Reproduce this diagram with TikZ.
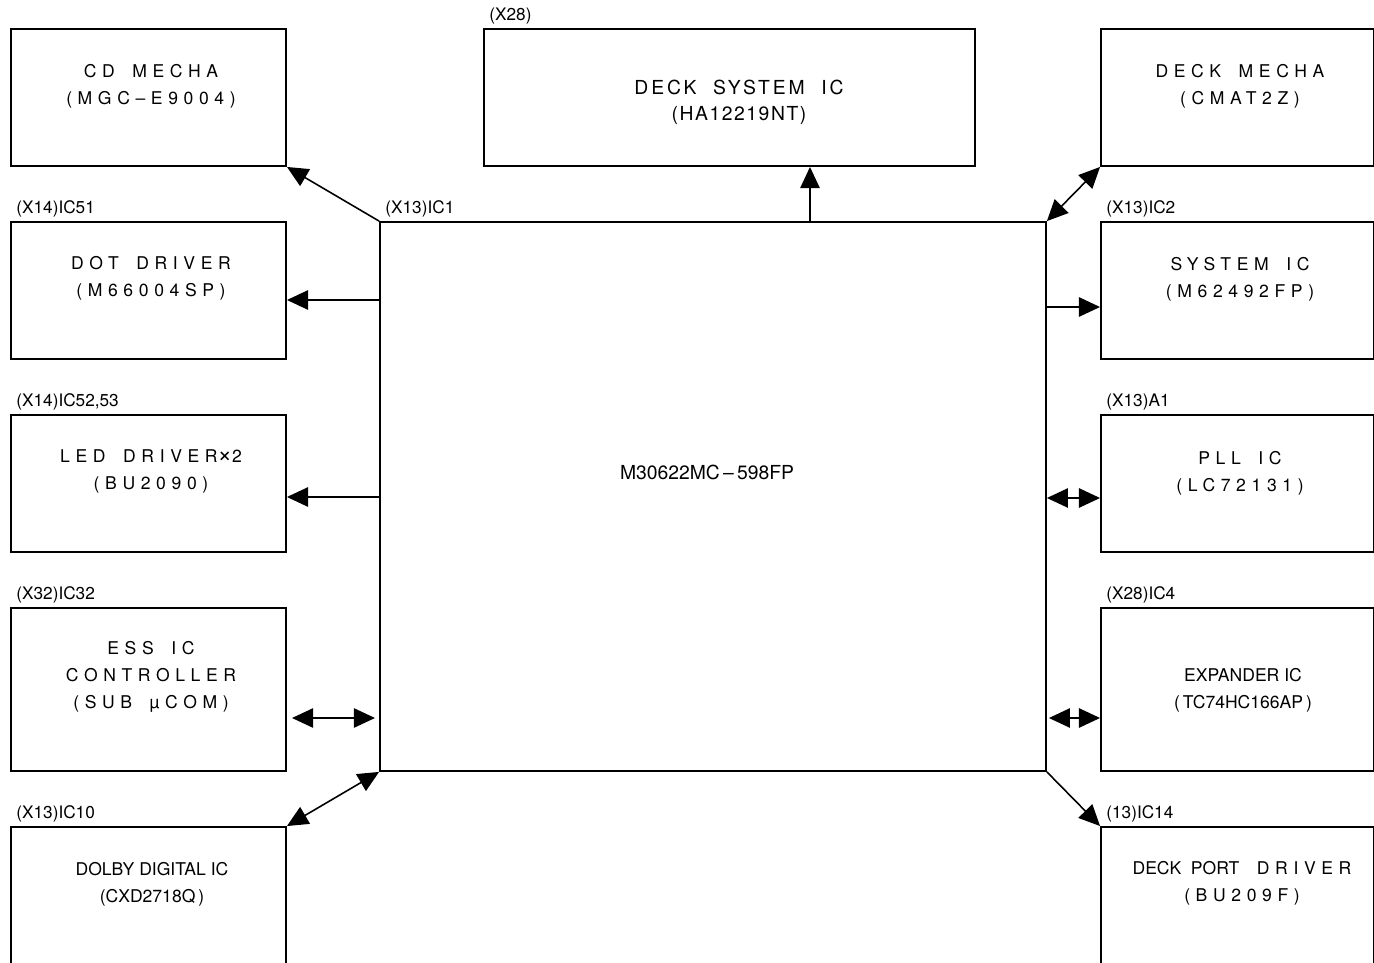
\documentclass[tikz,border=0pt]{standalone}
\usepackage{fontspec}
\setmainfont{TeX Gyre Heros}
\newfontfamily\wide[LetterSpace=32]{TeX Gyre Heros}
\newfontfamily\semi[LetterSpace=15]{TeX Gyre Heros}
\newfontfamily\light[LetterSpace=8]{TeX Gyre Heros}
\newcommand\wsp{\hspace{1em}}
\newcommand\bigx{{\fontsize{14}{14}\selectfont ×}}
\usetikzlibrary{positioning}
\usetikzlibrary{arrows.meta}

\tikzset{
  blk/.style={draw, line width=1.1pt, minimum height=2.74cm, inner sep=0pt},
  lbox/.style={blk, minimum width=5.5cm},
  rbox/.style={blk, minimum width=5.46cm},
  lbl/.style={inner sep=0pt, font=\fontsize{9.8}{11}\selectfont},
  txt/.style={align=center, font=\fontsize{10}{15.3}\selectfont},
  arr/.style={line width=0.9pt, -{Triangle[length=12pt, width=11pt]}},
  dbl/.style={line width=0.9pt, {Triangle[length=12pt, width=11pt]}-{Triangle[length=12pt, width=11pt]}},
}

\begin{document}
\begin{tikzpicture}[x=0.02cm, y=-0.02cm]
  \useasboundingbox (0,0) rectangle (1374,963);
  \clip (0,0) rectangle (1374,963);

  % main controller
  \node[blk, minimum width=13.32cm, minimum height=10.98cm] (ic1) at (713,496.5) {};
  \node[txt, font=\fontsize{11}{13}\selectfont] (ic1-t) at (707,472) {M30622MC\,–\,598FP};

  % blocks round it
  \foreach \name/\y in {cd/97.5, dot/290.5, led/483.5, dolby/895.5}
    \node[lbox] (\name) at (148.5,\y) {};
  \foreach \name/\y in {dm/97.5, sys/290.5, pll/483.5, dport/895.5}
    \node[rbox] (\name) at (1237.5,\y) {};
  \node[lbox, minimum height=3.26cm] (ess) at (148.5,689.5) {};
  \node[rbox, minimum height=3.26cm] (exp) at (1237.5,689.5) {};
  \node[blk, minimum width=9.82cm] (dsys) at (729.5,97.5) {};

  % block texts
  \foreach \name/\x/\y/\txt in {
      cd/151/86/{\wide CD\wsp MECHA\\\wide (MGC–E9004)},
      dm/1240/86/{\wide DECK\wsp MECHA\\\wide (CMAT2Z)},
      dot/151/278.5/{\wide DOT\wsp DRIVER\\\wide (M66004SP)},
      sys/1240/279.5/{\wide SYSTEM\wsp IC\\\wide (M62492FP)},
      led/151/471.5/{\wide LED\wsp DRIVER\bigx 2\\\wide (BU2090)},
      pll/1240/473/{\wide PLL\wsp IC\\\wide (LC72131)},
      ess/151/677/{\wide ESS\wsp IC\\\wide CONTROLLER\\\wide (SUB\wsp µCOM)},
      exp/1243/690.5/{EXPANDER IC\\(\,TC74HC166AP\,)},
      dolby/152/884/{DOLBY DIGITAL IC\\(CXD2718Q\,)},
      dport/1242/883/{DECK~~PORT\wsp{\wide DRIVER}\\\wide (BU209F)}}
    \node[txt] (\name-t) at (\x,\y) {\txt};
  \node[txt, font=\fontsize{11}{14.8}\selectfont] (dsys-t) at (739,102)
    {\semi DECK~~SYSTEM~~IC\\\light (HA12219NT)};

  % part numbers above the blocks
  \foreach \name/\txt in {dsys/(X28), ic1/(X13)IC1, dot/(X14)IC51, sys/(X13)IC2,
      led/{(X14)IC52,53}, pll/(X13)A1, ess/(X32)IC32, exp/(X28)IC4,
      dolby/(X13)IC10, dport/(13)IC14}
    \node[lbl, above right=0.08cm and 0.12cm of \name.north west] (\name-l) {\txt};

  % connections
  \coordinate (up) at (810,222);
  \coordinate (ess-a) at (375,718);
  \coordinate (ess-b) at (292,718);
  \draw[arr] (ic1.north west) -- (cd.south east);
  \draw[arr] (up) -- (up |- dsys.south);
  \draw[dbl] (ic1.north east) -- (dm.south west);
  \draw[arr] (ic1.west |- 0,300) -- (dot.east |- 0,300);
  \draw[arr] (ic1.west |- 0,497) -- (led.east |- 0,497);
  \draw[dbl] (ess-a) -- (ess-b);
  \draw[dbl] (ic1.south west) -- (dolby.north east);
  \draw[arr] (ic1.east |- 0,307) -- (sys.west |- 0,307);
  \draw[dbl] (ic1.east |- 0,498) -- (pll.west |- 0,498);
  \draw[dbl] ([xshift=0.04cm]ic1.east |- 0,718) -- (exp.west |- 0,718);
  \draw[arr] (ic1.south east) -- (dport.north west);
\end{tikzpicture}
\end{document}
